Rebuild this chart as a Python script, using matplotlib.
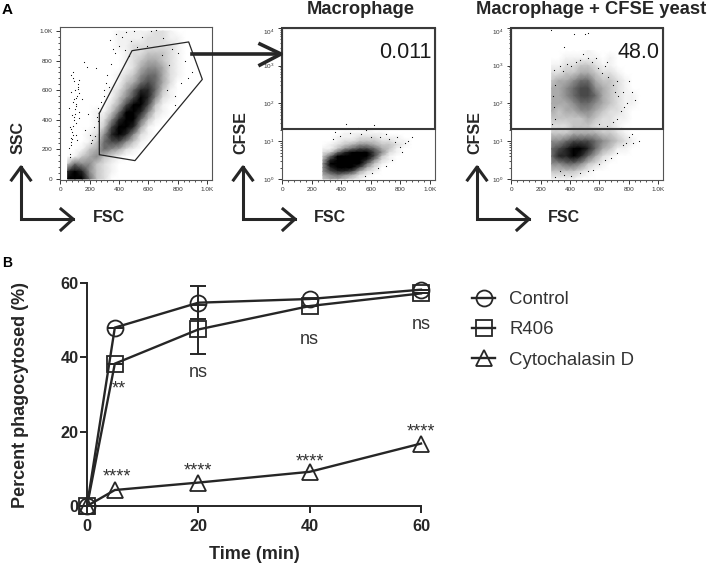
import numpy as np
import matplotlib
matplotlib.use("Agg")
import matplotlib.pyplot as plt
from matplotlib.colors import PowerNorm
from matplotlib.patches import Rectangle

plt.rcParams['font.family'] = ['Liberation Sans', 'DejaVu Sans']
plt.rcParams['mathtext.default'] = 'regular'

dark = '#262626'

# panel B values
times = [0, 5, 20, 40, 60]
control = [0, 48, 54.7, 55.7, 58.2]
r406 = [0, 38.3, 47.5, 53.8, 57.2]
cytoD = [0, 4.3, 6.3, 9.2, 16.8]
controlErr = [0, 0, 4.4, 0, 0]
r406Err = [0, 0, 6.5, 0, 0]
nsX = [20, 40, 60]
nsY = [35.9, 44.8, 48.9]
starX = [5.8, 5.4, 20, 40, 60]
starY = [30.4, 6.7, 8.3, 10.5, 18.6]
starText = ['**', '****', '****', '****', '****']

# panel A, first plot: density (0-9)
fsc1 = [50, 100, 150, 200, 250, 300, 350, 400, 450, 500, 550, 600, 650, 700, 750, 800, 850]
ssc1 = [1000, 950, 900, 850, 800, 750, 700, 650, 600, 550, 500, 450, 400, 350, 300, 250, 200, 150, 100, 50, 0]
density1 = [
	[0, 0, 0, 0, 0, 0, 0, 1, 1, 1, 1, 1, 2, 2, 1, 0, 0],
	[0, 0, 0, 0, 0, 0, 0, 1, 1, 1, 1, 2, 2, 2, 1, 1, 0],
	[0, 0, 0, 0, 0, 0, 0, 1, 1, 2, 2, 2, 2, 2, 2, 1, 0],
	[0, 0, 0, 0, 0, 0, 0, 0, 1, 2, 2, 3, 3, 3, 2, 1, 0],
	[0, 0, 0, 0, 0, 0, 0, 0, 1, 2, 3, 4, 4, 3, 2, 1, 0],
	[0, 0, 0, 0, 0, 0, 0, 0, 1, 2, 4, 5, 5, 4, 2, 1, 0],
	[0, 0, 0, 0, 0, 0, 0, 1, 2, 3, 5, 6, 6, 4, 2, 1, 0],
	[0, 0, 0, 0, 0, 0, 0, 1, 3, 4, 6, 7, 6, 4, 2, 0, 0],
	[0, 0, 0, 0, 0, 0, 1, 2, 4, 6, 8, 8, 6, 3, 1, 0, 0],
	[0, 0, 0, 0, 0, 0, 1, 3, 5, 7, 9, 8, 5, 2, 1, 0, 0],
	[0, 0, 0, 0, 0, 0, 2, 4, 7, 9, 9, 7, 3, 1, 0, 0, 0],
	[0, 0, 0, 0, 1, 1, 3, 6, 9, 9, 8, 5, 2, 1, 0, 0, 0],
	[0, 0, 0, 0, 1, 2, 5, 8, 9, 9, 6, 3, 1, 0, 0, 0, 0],
	[0, 0, 0, 0, 1, 3, 7, 9, 9, 8, 4, 1, 0, 0, 0, 0, 0],
	[0, 0, 0, 1, 2, 5, 8, 9, 8, 5, 2, 1, 0, 0, 0, 0, 0],
	[0, 0, 0, 1, 3, 6, 7, 7, 5, 3, 1, 0, 0, 0, 0, 0, 0],
	[0, 0, 1, 3, 4, 6, 5, 4, 2, 1, 0, 0, 0, 0, 0, 0, 0],
	[0, 1, 3, 4, 5, 3, 2, 1, 0, 0, 0, 0, 0, 0, 0, 0, 0],
	[3, 6, 5, 5, 3, 2, 1, 0, 0, 0, 0, 0, 0, 0, 0, 0, 0],
	[8, 9, 8, 5, 3, 2, 1, 0, 0, 0, 0, 0, 0, 0, 0, 0, 0],
	[9, 9, 9, 6, 3, 2, 0, 0, 0, 0, 0, 0, 0, 0, 0, 0, 0],
]
strayX1 = [70, 80, 95, 60, 110, 120, 75, 100, 85, 130, 65, 90, 115, 105, 78, 92, 125, 70, 88, 100,
	160, 180, 200, 230, 250, 280, 300, 320, 210, 260, 340, 380, 420, 400, 450, 370, 500, 480, 560, 620,
	700, 760, 800, 850, 900, 730, 780, 820, 240, 150,
	62, 72, 84, 98, 108, 118, 128, 66, 76, 94, 104, 112, 122, 68, 82, 96, 110, 126, 74, 90,
	170, 190, 215, 235, 255, 270, 295, 310, 330, 345, 360, 440, 470, 520, 590, 650, 690, 740, 870, 780]
strayY1 = [250, 320, 400, 480, 550, 640, 700, 600, 520, 450, 350, 300, 260, 380, 430, 660, 580, 230, 720, 470,
	790, 760, 300, 350, 420, 520, 600, 700, 240, 480, 940, 980, 960, 900, 990, 850, 1000, 930, 960, 1000,
	950, 880, 850, 800, 720, 600, 560, 650, 750, 540,
	210, 280, 360, 440, 510, 610, 670, 170, 340, 420, 490, 560, 620, 150, 270, 540, 300, 410, 590, 680,
	330, 440, 260, 290, 390, 460, 560, 650, 620, 780, 880, 870, 830, 890, 900, 1010, 840, 770, 680, 500]
gateX = [266, 489, 875, 968, 509, 266, 266]
gateY = [444, 867, 926, 673, 124, 164, 444]

# second and third plot share the FSC columns
fsc2 = [275, 325, 375, 425, 475, 525, 575, 625, 675, 725, 775, 825, 875]
logCfse2 = [1.3, 1.2, 1.1, 1.0, 0.9, 0.8, 0.7, 0.6, 0.5, 0.4, 0.3, 0.2, 0.1, 0.0]
density2 = [
	[0, 0, 0, 0, 0, 0, 1, 0, 0, 0, 0, 0, 0],
	[0, 0, 0, 1, 1, 1, 1, 1, 1, 0, 0, 0, 0],
	[0, 0, 1, 1, 1, 2, 2, 2, 1, 1, 1, 0, 0],
	[0, 0, 1, 2, 2, 3, 3, 3, 2, 2, 1, 1, 0],
	[0, 1, 2, 3, 4, 5, 5, 4, 3, 3, 2, 1, 0],
	[1, 1, 3, 5, 6, 7, 7, 6, 4, 3, 1, 0, 0],
	[2, 3, 6, 8, 9, 9, 9, 7, 5, 2, 1, 0, 0],
	[3, 6, 9, 9, 9, 9, 9, 7, 3, 1, 0, 0, 0],
	[4, 8, 9, 9, 9, 9, 8, 5, 2, 1, 0, 0, 0],
	[5, 9, 9, 9, 9, 9, 6, 3, 1, 0, 0, 0, 0],
	[5, 8, 9, 9, 9, 7, 4, 2, 0, 0, 0, 0, 0],
	[5, 7, 8, 8, 7, 4, 2, 1, 0, 0, 0, 0, 0],
	[4, 5, 6, 5, 4, 2, 1, 0, 0, 0, 0, 0, 0],
	[3, 4, 4, 3, 2, 1, 0, 0, 0, 0, 0, 0, 0],
]
strayX2 = [430, 620, 360, 780, 850, 880, 830, 700, 510, 570, 800, 740, 700,
	340, 390, 460, 530, 600, 660, 720, 760, 810, 650, 610, 560]
strayY2 = [1.45, 1.42, 1.25, 1.1, 1.0, 1.1, 0.95, 1.2, 1.35, 1.3, 0.85, 0.5, 0.35,
	1.05, 1.15, 1.22, 1.2, 1.12, 1.1, 1.05, 0.98, 0.72, 0.28, 0.15, 0.08]

logCfse3 = [3.4, 3.2, 3.0, 2.8, 2.6, 2.4, 2.2, 2.0, 1.8, 1.6, 1.4, 1.2, 1.0, 0.8, 0.6, 0.4, 0.2, 0.0]
density3 = [
	[0, 0, 0, 0, 0, 1, 0, 0, 0, 0, 0, 0, 0],
	[0, 0, 1, 1, 1, 1, 1, 0, 1, 0, 0, 0, 0],
	[1, 1, 2, 2, 3, 3, 2, 1, 1, 0, 0, 0, 0],
	[2, 2, 3, 3, 4, 4, 3, 2, 2, 1, 0, 0, 0],
	[3, 4, 4, 5, 6, 6, 4, 3, 3, 2, 1, 0, 0],
	[4, 4, 5, 6, 7, 7, 5, 4, 3, 2, 1, 0, 0],
	[4, 4, 5, 6, 7, 7, 6, 4, 3, 2, 1, 1, 0],
	[4, 4, 4, 5, 6, 6, 5, 4, 3, 2, 1, 1, 0],
	[4, 3, 4, 4, 5, 5, 4, 3, 2, 2, 1, 0, 0],
	[3, 3, 3, 3, 3, 4, 3, 2, 2, 1, 1, 0, 0],
	[2, 2, 2, 3, 3, 3, 2, 2, 2, 1, 0, 0, 0],
	[3, 3, 3, 4, 4, 4, 4, 3, 3, 2, 1, 0, 0],
	[5, 5, 6, 7, 7, 7, 6, 5, 4, 3, 2, 1, 0],
	[6, 7, 8, 9, 9, 8, 6, 4, 3, 1, 1, 0, 0],
	[6, 8, 8, 9, 8, 6, 4, 2, 1, 0, 0, 0, 0],
	[5, 5, 6, 6, 5, 3, 2, 1, 0, 0, 0, 0, 0],
	[3, 3, 3, 3, 2, 1, 0, 0, 0, 0, 0, 0, 0],
	[1, 1, 1, 1, 0, 0, 0, 0, 0, 0, 0, 0, 0],
]
strayX3 = [270, 430, 500, 525, 360, 580, 650, 720, 800, 820, 790, 840, 750, 800, 870, 830, 760, 640,
	290, 300, 285, 290, 300, 280, 330, 350, 380, 410, 440, 470, 490, 520, 550, 590, 620, 660, 690, 710,
	730, 760, 770, 720, 690, 650, 600, 750, 820, 780, 720, 680, 640, 600, 560, 520, 470, 410, 360, 300, 330]
strayY3 = [3.95, 3.85, 3.85, 3.88, 3.5, 3.2, 3.1, 2.6, 2.6, 2.3, 2.0, 2.1, 1.8, 1.1, 1.0, 0.95, 0.9, 3.0,
	2.9, 2.5, 2.2, 1.9, 1.6, 1.45, 3.0, 2.85, 3.05, 3.0, 3.1, 3.15, 3.3, 3.2, 3.1, 2.95, 2.8, 2.7, 2.5, 2.3,
	2.2, 2.3, 1.9, 1.6, 1.5, 1.4, 1.45, 1.35, 1.2, 0.95, 0.7, 0.55, 0.5, 0.4, 0.25, 0.2, 0.15, 0.08, 0.1, 0.05, 0.2]

linTicks = [0, 200, 400, 600, 800, 1000]
linLabels = ['0', '200', '400', '600', '800', '1.0K']
logTicks = [1, 10, 100, 1000, 10000]
logLabels = ['$10^{0}$', '$10^{1}$', '$10^{2}$', '$10^{3}$', '$10^{4}$']
gateLow = 10 ** 1.33

W, H = 708, 564
fig = plt.figure(figsize=(W / 100, H / 100), dpi=100)
densNorm = PowerNorm(1.35, vmin=0, vmax=9)


# makes an axes from a box given in picture pixels
def axesAt(left, top, right, bottom):
	return fig.add_axes([left / W, 1 - bottom / H, (right - left) / W, (bottom - top) / H])


def styleFlow(ax):
	ax.set_xlim(-2, 1034)
	ax.set_xticks(linTicks)
	ax.set_xticklabels(linLabels)
	ax.set_xticks(np.arange(0, 1001, 40), minor=True)
	ax.tick_params(axis='both', which='major', length=3.2, width=0.7, labelsize=4.6, pad=2,
		colors='#333333')
	ax.tick_params(axis='both', which='minor', length=1.6, width=0.6, colors='#333333')
	for s in ax.spines.values():
		s.set_linewidth(0.8)
		s.set_color('#555555')


def drawLogPanel(ax, fsc, logCfse, density, strayX, strayY):
	ax.set_yscale('log')
	ax.pcolormesh(fsc, 10 ** np.array(logCfse), np.array(density), cmap='gray_r', norm=densNorm,
		shading='gouraud', rasterized=True)
	ax.scatter(strayX, 10 ** np.array(strayY), s=0.7, c='black', linewidths=0)
	ax.set_ylim(0.94, 10000)
	styleFlow(ax)
	ax.set_yticks(logTicks)
	ax.set_yticklabels(logLabels)
	ax.yaxis.set_minor_locator(matplotlib.ticker.LogLocator(base=10, subs=np.arange(2, 10), numticks=10))
	ax.yaxis.set_minor_formatter(matplotlib.ticker.NullFormatter())
	ax.get_yticklabels()[-1].set_va('top')
	ax.add_patch(Rectangle((-2, gateLow), 1036, 10000 - gateLow, fill=False, ec='#3a3a3a', lw=1.5,
		clip_on=False, zorder=5))


# scatter plot 1
ax1 = axesAt(60, 27, 212, 180)
ax1.pcolormesh(fsc1, ssc1, np.array(density1), cmap='gray_r', norm=densNorm, shading='gouraud',
	rasterized=True)
ax1.scatter(strayX1, strayY1, s=0.7, c='black', linewidths=0)
ax1.plot(gateX, gateY, c=dark, lw=0.9)
ax1.set_ylim(-7, 1027)
styleFlow(ax1)
ax1.set_yticks(linTicks)
ax1.set_yticklabels(linLabels)
ax1.set_yticks(np.arange(0, 1001, 40), minor=True)

# scatter plots 2 and 3
ax2 = axesAt(282, 28, 435, 180)
drawLogPanel(ax2, fsc2, logCfse2, density2, strayX2, strayY2)
ax3 = axesAt(511, 28, 663, 180)
drawLogPanel(ax3, fsc2, logCfse3, density3, strayX3, strayY3)

# panel B
axB = axesAt(87, 283, 421, 506)
lineStyle = dict(c=dark, lw=1.7, mew=1.3, ms=11.5, fillstyle='none', clip_on=False, zorder=4)
h1, = axB.plot(times, control, marker='o', label='Control', **lineStyle)
h2, = axB.plot(times, r406, marker='s', label='R406', **lineStyle)
h3, = axB.plot(times, cytoD, marker='^', label='Cytochalasin D', **lineStyle)
axB.errorbar(times, control, yerr=controlErr, fmt='none', ecolor=dark, elinewidth=1.4, capsize=5.5,
	capthick=1.4, clip_on=False)
axB.errorbar(times, r406, yerr=r406Err, fmt='none', ecolor=dark, elinewidth=1.4, capsize=5.5,
	capthick=1.4, clip_on=False)
axB.set_xlim(0, 60)
axB.set_ylim(0, 60)
axB.set_xticks([0, 20, 40, 60])
axB.set_yticks([0, 20, 40, 60])
axB.spines['top'].set_visible(False)
axB.spines['right'].set_visible(False)
axB.spines['left'].set_linewidth(1.4)
axB.spines['bottom'].set_linewidth(1.4)
axB.spines['left'].set_color(dark)
axB.spines['bottom'].set_color(dark)
axB.tick_params(axis='x', length=5, width=1.4, color=dark, pad=4.5)
axB.tick_params(axis='y', length=5, width=1.4, color=dark, pad=1)
for t in axB.get_xticklabels() + axB.get_yticklabels():
	t.set_fontsize(11.7)
	t.set_fontweight('bold')
	t.set_color(dark)
axB.set_xlabel('Time (min)', fontsize=13, fontweight='bold', color=dark, labelpad=8.5)
for i in range(len(nsX)):
	axB.text(nsX[i], nsY[i], 'ns', fontsize=13, color='#333333', ha='center', va='center')
for i in range(len(starX)):
	axB.text(starX[i], starY[i], starText[i], fontsize=13, color='#333333', ha='center', va='baseline')

fig.legend(handles=[h1, h2, h3], loc='upper left', bbox_to_anchor=(472 / W, 1 - 291 / H), frameon=False,
	fontsize=13.4, labelcolor='#333333', handlelength=1.24, handletextpad=0.75, labelspacing=0.72,
	borderpad=0, borderaxespad=0)

# overlay in picture pixels for the arrows and the loose labels
over = fig.add_axes([0, 0, 1, 1], zorder=10)
over.set_xlim(0, W)
over.set_ylim(H, 0)
over.axis('off')


def drawElbow(cx):
	over.plot([cx, cx, cx + 52], [167, 219, 219], c=dark, lw=2.2, solid_joinstyle='miter')
	over.plot([cx - 9.5, cx, cx + 9.5], [180, 167, 180], c=dark, lw=2.2)
	over.plot([cx + 40, cx + 52, cx + 40], [209, 219, 230], c=dark, lw=2.2)


for cx in [21, 243, 477]:
	drawElbow(cx)
over.plot([192, 280], [54, 54], c=dark, lw=2.6)
over.plot([260, 281, 260], [44, 54, 65], c=dark, lw=2.6)

for x, s in [(109, 'FSC'), (330, 'FSC'), (564, 'FSC')]:
	over.text(x, 218, s, fontsize=11.5, fontweight='bold', color=dark, ha='center', va='center')
over.text(18, 138, 'SSC', fontsize=11.5, fontweight='bold', color=dark, ha='center', va='center', rotation=90)
for x in [241, 475]:
	over.text(x, 133, 'CFSE', fontsize=11.5, fontweight='bold', color=dark, ha='center', va='center',
		rotation=90)
over.text(361, 9, 'Macrophage', fontsize=13.2, fontweight='bold', color=dark, ha='center', va='center')
over.text(591, 9, 'Macrophage + CFSE yeast', fontsize=13.2, fontweight='bold', color=dark, ha='center',
	va='center')
over.text(431, 52, '0.011', fontsize=15.5, color='#1a1a1a', ha='right', va='center')
over.text(660, 52, '48.0', fontsize=15.5, color='#1a1a1a', ha='right', va='center')
over.text(2, 10, 'A', fontsize=11, fontweight='bold', color='black', ha='left', va='center')
over.text(2, 263, 'B', fontsize=10, fontweight='bold', color='black', ha='left', va='center')
over.text(21, 395, 'Percent phagocytosed (%)', fontsize=13, fontweight='bold', color=dark, ha='center',
	va='center', rotation=90)

fig.savefig('out.png', dpi=100)
